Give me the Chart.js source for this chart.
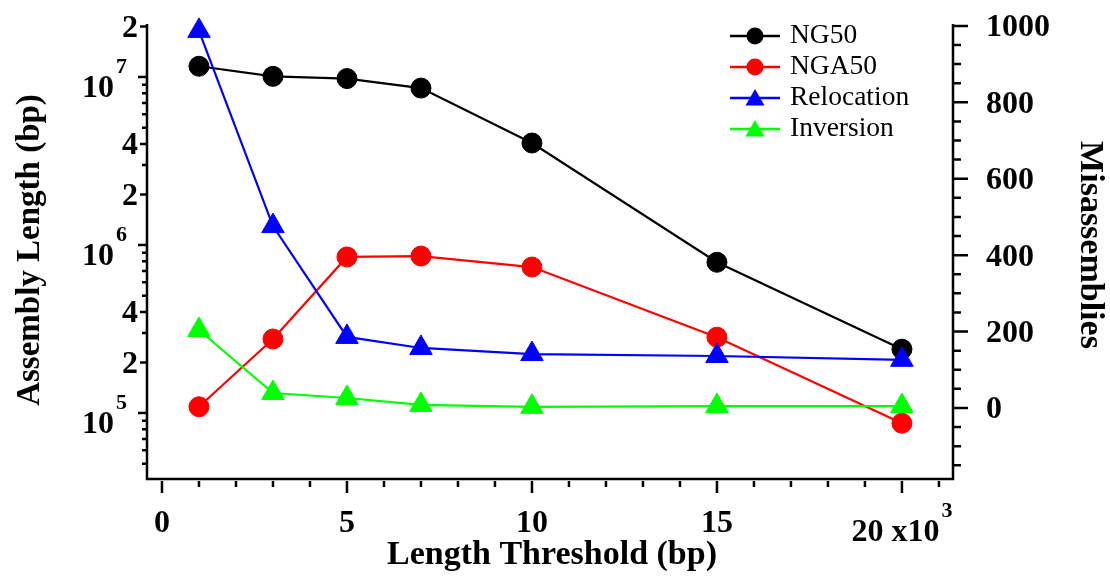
<!DOCTYPE html>
<html><head><meta charset="utf-8">
<script src="https://cdn.jsdelivr.net/npm/chart.js@4.4.1/dist/chart.umd.min.js"></script>
<style>html,body{margin:0;padding:0;background:#fff;}#wrap{width:1110px;height:577px;}</style>
</head><body><div id="wrap"><canvas id="c" width="1110" height="577"></canvas></div>
<script>
// ---- data ----
const thresholds = [1000, 3000, 5000, 7000, 10000, 15000, 20000];
const ng50 = [1.16e7, 1.01e7, 0.98e7, 8.6e6, 4.05e6, 7.9e5, 2.4e5];
const nga50 = [1.09e5, 2.76e5, 8.5e5, 8.6e5, 7.4e5, 2.83e5, 8.7e4];
const relocation = [987, 476, 186, 157, 141, 136, 126];
const inversion = [204, 39, 26, 8, 3, 5, 5];
const seriesNames = ['NG50', 'NGA50', 'Relocation', 'Inversion'];

const xTickValues = [0, 5000, 10000, 15000, 20000];
const xTickLabels = ['0', '5', '10', '15', '20 x10^3'];
const leftTickValues = [1e5, 2e5, 4e5, 1e6, 2e6, 4e6, 1e7, 2e7];
const leftTickLabels = ['10^5', '2', '4', '10^6', '2', '4', '10^7', '2'];
const rightTickValues = [0, 200, 400, 600, 800, 1000];
const rightTickLabels = ['0', '200', '400', '600', '800', '1000'];

const SERIF = '"Liberation Serif", "Times New Roman", serif';
const pts = arr => thresholds.map((t, i) => ({x: t, y: arr[i]}));

function drawSup(ctx, label, x, cy, align) {
  const parts = label.split('^');
  const base = parts[0], exp = parts[1] || '';
  const bf = 'bold 32px ' + SERIF, ef = 'bold 22px ' + SERIF;
  ctx.font = bf; const bw = ctx.measureText(base).width;
  ctx.font = ef; const ew = exp ? ctx.measureText(exp).width + 2 : 0;
  const total = bw + ew;
  let left = align === 'center' ? x - total / 2 : align === 'right' ? x - total : x;
  ctx.textAlign = 'left'; ctx.textBaseline = 'alphabetic';
  if (exp) {
    ctx.font = bf; ctx.fillText(base, left, cy + 9.5 + 10.5);
    ctx.font = ef; ctx.fillText(exp, left + bw + 2, cy - 11.5 + 7.3);
  } else {
    ctx.font = bf; ctx.fillText(base, left, cy + 10.5);
  }
}

const deco = {
  id: 'deco',
  beforeDatasetsDraw(chart) {
    const ctx = chart.ctx, a = chart.chartArea;
    const xs = chart.scales.x, yl = chart.scales.yL, yr = chart.scales.yR;
    ctx.save();
    ctx.strokeStyle = '#000'; ctx.fillStyle = '#000';
    ctx.lineWidth = 2.5; ctx.lineJoin = 'miter'; ctx.lineCap = 'butt';
    ctx.beginPath();
    ctx.moveTo(a.left, a.top); ctx.lineTo(a.left, a.bottom);
    ctx.lineTo(a.right, a.bottom); ctx.lineTo(a.right, a.top);
    ctx.stroke();
    // x ticks
    ctx.beginPath();
    for (let v = 0; v <= xs.max; v += 1000) {
      const p = xs.getPixelForValue(v);
      const len = v % 5000 === 0 ? 12 : 6;
      ctx.moveTo(p, a.bottom + 2); ctx.lineTo(p, a.bottom + 2 + len);
    }
    // left log ticks
    for (let n = 4; n <= 7; n++) {
      for (let k = 1; k <= 9; k++) {
        const v = k * Math.pow(10, n);
        if (v < yl.min || v > yl.max) continue;
        const p = yl.getPixelForValue(v);
        const len = k === 1 ? 9 : (k === 2 || k === 4) ? 7 : 5;
        ctx.moveTo(a.left, p); ctx.lineTo(a.left - len, p);
      }
    }
    // right ticks
    for (let v = -150; v <= 1000; v += 50) {
      const p = yr.getPixelForValue(v);
      const len = v % 200 === 0 ? 15 : 8;
      ctx.moveTo(a.right, p); ctx.lineTo(a.right + len, p);
    }
    ctx.stroke();
    // tick labels
    xTickValues.forEach((v, i) => drawSup(ctx, xTickLabels[i], xs.getPixelForValue(v), 521, 'center'));
    leftTickValues.forEach((v, i) => {
      const lab = leftTickLabels[i];
      drawSup(ctx, lab, lab.indexOf('^') >= 0 ? 127 : 138, yl.getPixelForValue(v), 'right');
    });
    rightTickValues.forEach((v, i) => drawSup(ctx, rightTickLabels[i], a.right + 33, yr.getPixelForValue(v), 'left'));
    // titles
    ctx.textAlign = 'center'; ctx.textBaseline = 'middle';
    ctx.font = 'bold 34px ' + SERIF;
    ctx.fillText('Length Threshold (bp)', 552, 555);
    ctx.save(); ctx.translate(30, 250); ctx.rotate(-Math.PI / 2);
    ctx.font = 'bold 33px ' + SERIF; ctx.fillText('Assembly Length (bp)', 0, 0); ctx.restore();
    ctx.save(); ctx.translate(1090, 245); ctx.rotate(Math.PI / 2);
    ctx.font = 'bold 34px ' + SERIF; ctx.fillText('Misassemblies', 0, 0); ctx.restore();
    ctx.restore();
  },
  afterDatasetsDraw(chart) {
    const ctx = chart.ctx;
    ctx.save();
    chart.data.datasets.forEach((ds, i) => {
      const y = 36 + i * 31;
      ctx.strokeStyle = ds.borderColor; ctx.fillStyle = ds.borderColor; ctx.lineWidth = 2.5;
      ctx.beginPath(); ctx.moveTo(730, y); ctx.lineTo(780, y); ctx.stroke();
      ctx.beginPath();
      if (ds.pointStyle === 'circle') {
        ctx.arc(755, y, 8.5, 0, Math.PI * 2);
      } else {
        const r = 11;
        for (let j = 0; j < 3; j++) {
          const ang = j * 2 * Math.PI / 3;
          const px = 755 + Math.sin(ang) * r, py = y + 2 - Math.cos(ang) * r;
          j === 0 ? ctx.moveTo(px, py) : ctx.lineTo(px, py);
        }
        ctx.closePath();
      }
      ctx.fill();
      ctx.fillStyle = '#000';
      ctx.font = '27.5px ' + SERIF; ctx.textAlign = 'left'; ctx.textBaseline = 'middle';
      ctx.fillText(seriesNames[i], 790, y);
    });
    ctx.restore();
  }
};

function ds(label, arr, color, style, radius, axis, order) {
  return {
    label, data: pts(arr), yAxisID: axis, order,
    borderColor: color, backgroundColor: color, borderWidth: 2.2,
    pointStyle: style, pointRadius: radius, pointHoverRadius: radius,
    pointBackgroundColor: color, pointBorderColor: color, pointBorderWidth: 1,
    tension: 0, fill: false, clip: false
  };
}

new Chart(document.getElementById('c'), {
  type: 'line',
  data: {
    datasets: [
      ds(seriesNames[0], ng50, '#000000', 'circle', 10, 'yL', 4),
      ds(seriesNames[1], nga50, '#ff0000', 'circle', 10, 'yL', 3),
      ds(seriesNames[2], relocation, '#0000ff', 'triangle', 13, 'yR', 2),
      ds(seriesNames[3], inversion, '#00ff00', 'triangle', 13, 'yR', 1)
    ]
  },
  options: {
    responsive: false, animation: false,
    layout: {padding: {left: 147, right: 157, top: 24, bottom: 98}, autoPadding: false},
    plugins: {legend: {display: false}, tooltip: {enabled: false}},
    scales: {
      x: {type: 'linear', min: -405, max: 21380, display: false},
      yL: {type: 'logarithmic', position: 'left', min: 40500, max: 20700000, display: false},
      yR: {type: 'linear', position: 'right', min: -186, max: 1005, display: false}
    }
  },
  plugins: [deco]
});
</script></body></html>
